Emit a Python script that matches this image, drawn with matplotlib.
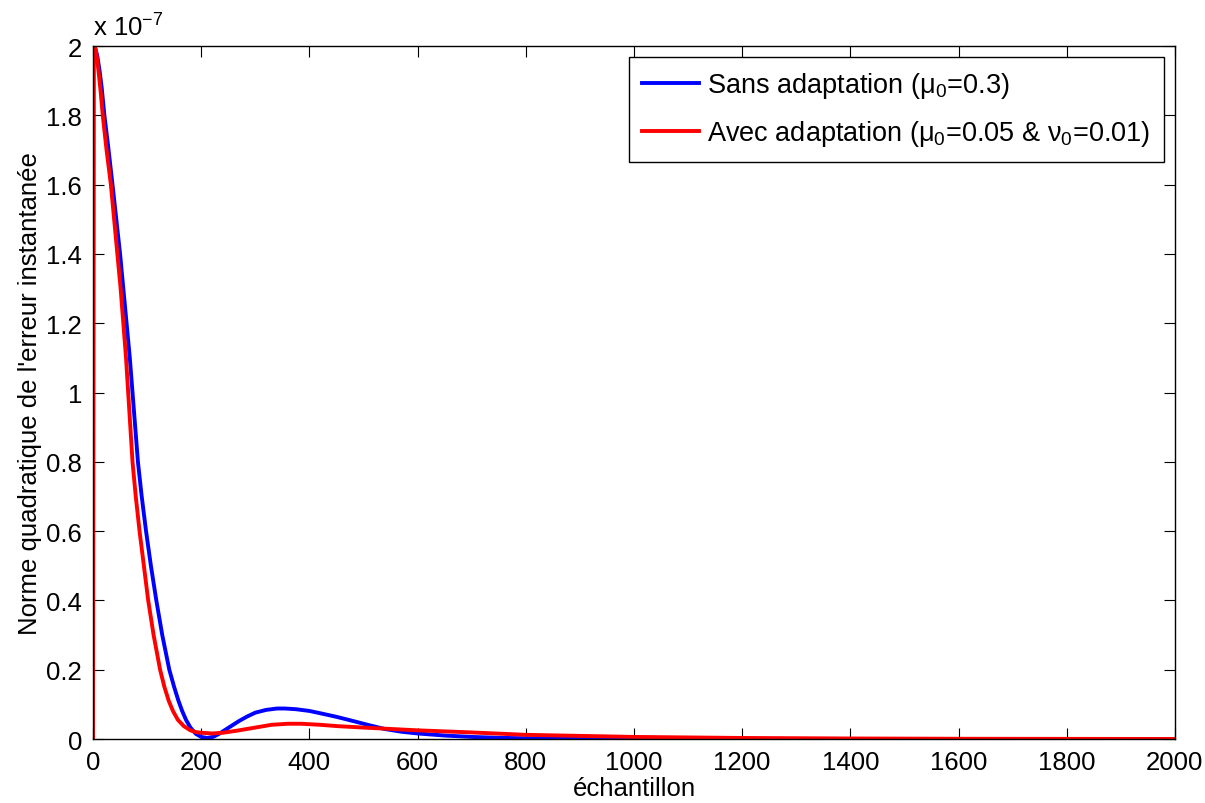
import matplotlib.pyplot as plt

plt.rcParams['font.family'] = ['Liberation Sans', 'DejaVu Sans']
plt.rcParams['mathtext.fontset'] = 'custom'
plt.rcParams['mathtext.rm'] = 'Liberation Sans'
plt.rcParams['mathtext.it'] = 'Liberation Sans'

# valeurs (unité : 1e-7)
n_sans = [0, 1, 4, 8, 12, 16, 21, 28, 36, 43, 50, 56, 62, 68, 73, 78, 83, 90, 98, 107, 117, 128,
          141, 150, 158, 165, 172, 180, 190, 200, 211, 222, 232, 245, 258, 270, 285, 300, 320,
          340, 355, 375, 400, 421, 450, 483, 510, 539, 570, 600, 650, 700, 750, 800, 900, 1000,
          1200, 2000]
e_sans = [0, 2.0, 1.995, 1.97, 1.93, 1.88, 1.8, 1.71, 1.6, 1.5, 1.4, 1.3, 1.2, 1.1, 1.0, 0.9, 0.8,
          0.7, 0.6, 0.5, 0.4, 0.3, 0.2, 0.15, 0.11, 0.08, 0.055, 0.033, 0.015, 0.006, 0.003, 0.006,
          0.014, 0.027, 0.04, 0.052, 0.065, 0.076, 0.084, 0.088, 0.088, 0.086, 0.081, 0.074, 0.064,
          0.051, 0.04, 0.029, 0.021, 0.016, 0.01, 0.006, 0.0035, 0.002, 0.0007, 0.0002, 0.0, 0.0]

n_avec = [0, 1, 3, 6, 10, 14, 18, 25, 33, 39, 45, 51, 56, 61, 65, 69, 73, 79, 86, 94, 102, 112,
          124, 132, 140, 148, 157, 168, 180, 190, 200, 220, 240, 266, 300, 330, 360, 385, 420,
          453, 500, 550, 600, 700, 800, 900, 1000, 1100, 1200, 1400, 1600, 2000]
e_avec = [0, 2.0, 2.0, 1.98, 1.93, 1.87, 1.8, 1.7, 1.6, 1.5, 1.4, 1.3, 1.2, 1.1, 1.0, 0.9, 0.8,
          0.7, 0.6, 0.5, 0.4, 0.3, 0.2, 0.15, 0.11, 0.08, 0.055, 0.037, 0.025, 0.02, 0.018, 0.016,
          0.018, 0.024, 0.033, 0.041, 0.044, 0.044, 0.041, 0.037, 0.033, 0.029, 0.025, 0.019,
          0.012, 0.009, 0.006, 0.0045, 0.003, 0.0015, 0.0007, 0.0001]

fig = plt.figure(figsize=(12.05, 8.04), dpi=100)
ax = fig.add_axes([0.0772, 0.0796, 0.8978, 0.8619])

ax.plot(n_sans, e_sans, color='#0000ff', lw=2.8, label='Sans adaptation (μ$_0$=0.3)')
ax.plot(n_avec, e_avec, color='#ff0000', lw=2.8, label='Avec adaptation (μ$_0$=0.05 & ν$_0$=0.01)')

ax.set_xlim(0, 2000)
ax.set_ylim(0, 2)
ax.set_xticks(range(0, 2001, 200))
ax.set_yticks([i * 0.2 for i in range(11)])
ax.set_yticklabels(['0', '0.2', '0.4', '0.6', '0.8', '1', '1.2', '1.4', '1.6', '1.8', '2'])
ax.tick_params(direction='in', length=8, top=True, right=True, labelsize=18.5)
ax.tick_params(axis='x', pad=8)
ax.tick_params(axis='y', pad=8)
for s in ax.spines.values():
    s.set_linewidth(1.0)

ax.text(0.0, 1.008, r'x 10$^{-7}$', transform=ax.transAxes, fontsize=18.5, ha='left', va='bottom')

ax.set_xlabel('échantillon', fontsize=18.5, labelpad=1)
ax.set_ylabel("Norme quadratique de l'erreur instantanée", fontsize=18.5, labelpad=3)

leg = ax.legend(loc='upper right', fontsize=19.5, fancybox=False, framealpha=1,
                edgecolor='black', handlelength=2.1, handletextpad=0.3,
                borderpad=0.5, labelspacing=0.65, borderaxespad=0.4)
leg.get_frame().set_linewidth(1.0)

fig.savefig('out.png', dpi=100)
